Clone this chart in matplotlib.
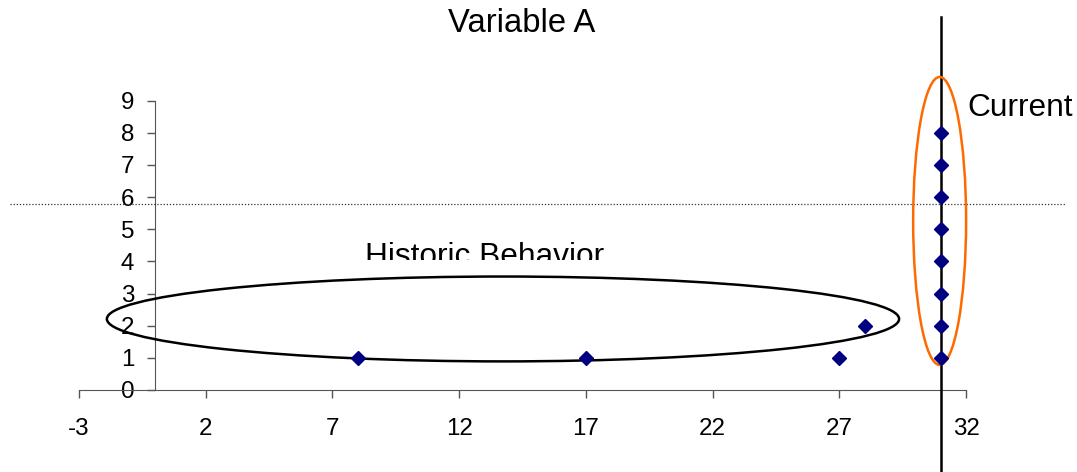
import matplotlib
matplotlib.use("Agg")
import matplotlib.pyplot as plt
from matplotlib.patches import Ellipse
from matplotlib.transforms import Bbox

plt.rcParams["font.family"] = ["Liberation Sans", "DejaVu Sans"]
plt.rcParams["axes.unicode_minus"] = False

# data
hist_x = [8, 17, 27, 28]
hist_y = [1, 1, 1, 2]
curr_x = [31, 31, 31, 31, 31, 31, 31, 31]
curr_y = [1, 2, 3, 4, 5, 6, 7, 8]
x_ticks = [-3, 2, 7, 12, 17, 22, 27, 32]
y_ticks = [0, 1, 2, 3, 4, 5, 6, 7, 8, 9]
threshold_y = 5.8
current_x = 31

W, H = 1077, 472
fig = plt.figure(figsize=(W / 100, H / 100), dpi=100)
ax = fig.add_axes([79 / W, (H - 390) / H, 887 / W, 289.3 / H])

ax.plot(hist_x + curr_x, hist_y + curr_y, linestyle="none", marker="D",
        ms=6.8, color="#000080", zorder=5, clip_on=False)

ax.set_xlim(-3, 32)
ax.set_ylim(0, 9)
ax.set_xticks(x_ticks)
ax.set_yticks(y_ticks)

axis_col = "#555555"
for s in ("top", "right"):
    ax.spines[s].set_visible(False)
ax.spines["left"].set_position(("data", 0))
ax.spines["left"].set_color(axis_col)
ax.spines["bottom"].set_color(axis_col)
ax.tick_params(axis="both", direction="out", length=6, width=1, color=axis_col,
               labelsize=17.4)
ax.tick_params(axis="x", pad=14)
ax.tick_params(axis="y", pad=9)

# threshold (dotted) and current (solid) lines reaching past the axes
ax.plot([-5.72, 35.95], [threshold_y, threshold_y], ls=(0, (1, 1.5)), lw=0.9,
        color="#333333", clip_on=False, zorder=3)
ax.plot([current_x, current_x], [11.6, -2.6], color="black", lw=1.8,
        clip_on=False, zorder=4)

# annotation ellipses
ax.add_patch(Ellipse((13.73, 2.21), 31.26, 2.64, fill=False, ec="black", lw=1.8,
                     clip_on=False, zorder=4))
ax.add_patch(Ellipse((30.96, 5.26), 2.09, 8.96, fill=False, ec="#ff6a00", lw=1.8,
                     clip_on=False, zorder=4))

fig.text(522 / W, 1 - 23 / H, "Variable A", ha="center", va="center", fontsize=23.6)
fig.text(967 / W, 1 - 108 / H, "Current", ha="left", va="center", fontsize=22.8)
t = fig.text(485 / W, 1 - 265 / H, "Historic Behavior", ha="center", va="baseline",
             fontsize=22.8)
# the label is cut at its lower edge in the original
t.set_clip_box(Bbox.from_extents(0, H - 260, W, H))
t.set_clip_on(True)

fig.savefig("out.png", dpi=100)
